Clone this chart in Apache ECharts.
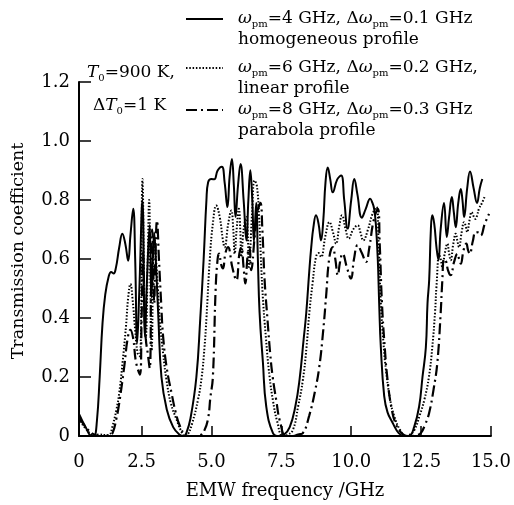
<!DOCTYPE html>
<html><head><meta charset="utf-8">
<script src="https://cdn.jsdelivr.net/npm/echarts@6/dist/echarts.min.js"></script>
<style>html,body{margin:0;padding:0;background:#fff}#c{width:514px;height:505px}</style>
</head><body><div id="c"></div>
<script>
// EMW frequency (GHz), transmission coefficient
const homogeneous = [[0.26,0.075],[0.5,0.03],[0.72,0.0],[0.8,0.0],[0.9,0.05],[1.0,0.2],[1.1,0.38],[1.2,0.48],[1.32,0.54],[1.41,0.556],[1.5,0.551],[1.58,0.57],[1.7,0.64],[1.81,0.686],[1.92,0.65],[2.02,0.594],[2.1,0.68],[2.2,0.77],[2.27,0.6],[2.34,0.315],[2.42,0.5],[2.53,0.80],[2.62,0.337],[2.7,0.55],[2.79,0.715],[2.85,0.47],[2.95,0.69],[3.03,0.55],[3.1,0.4],[3.21,0.2],[3.4,0.09],[3.63,0.03],[3.85,0.005],[4.0,0.0],[4.1,0.01],[4.25,0.06],[4.46,0.2],[4.6,0.4],[4.72,0.6],[4.82,0.8],[4.88,0.86],[5.0,0.871],[5.1,0.87],[5.22,0.9],[5.37,0.913],[5.47,0.86],[5.57,0.776],[5.65,0.88],[5.73,0.939],[5.8,0.85],[5.86,0.742],[5.95,0.85],[6.04,0.922],[6.15,0.8],[6.25,0.663],[6.32,0.8],[6.39,0.901],[6.46,0.8],[6.52,0.66],[6.6,0.79],[6.66,0.6],[6.72,0.42],[6.84,0.25],[6.96,0.1],[7.2,0.01],[7.4,0.0],[7.6,0.005],[7.8,0.03],[8.0,0.1],[8.15,0.19],[8.3,0.33],[8.39,0.416],[8.5,0.56],[8.57,0.64],[8.65,0.71],[8.74,0.748],[8.83,0.72],[8.92,0.663],[9.0,0.73],[9.08,0.86],[9.16,0.91],[9.25,0.87],[9.34,0.826],[9.5,0.87],[9.64,0.883],[9.75,0.8],[9.87,0.703],[10.0,0.8],[10.11,0.871],[10.22,0.82],[10.38,0.74],[10.52,0.77],[10.68,0.804],[10.76,0.79],[10.82,0.77],[10.88,0.72],[10.95,0.6],[11.0,0.45],[11.06,0.3],[11.18,0.135],[11.3,0.08],[11.48,0.045],[11.7,0.01],[11.9,0.0],[12.07,0.0],[12.25,0.03],[12.43,0.1],[12.55,0.2],[12.67,0.3],[12.73,0.45],[12.79,0.53],[12.85,0.7],[12.9,0.748],[12.97,0.72],[13.05,0.64],[13.12,0.596],[13.2,0.7],[13.32,0.79],[13.42,0.675],[13.5,0.74],[13.6,0.81],[13.67,0.76],[13.74,0.708],[13.83,0.79],[13.92,0.837],[13.98,0.8],[14.04,0.742],[14.15,0.84],[14.25,0.897],[14.38,0.84],[14.5,0.79],[14.6,0.84],[14.69,0.871]];

const linear = [[0.26,0.06],[0.5,0.025],[0.8,0.003],[1.0,0.005],[1.2,0.003],[1.35,0.005],[1.45,0.03],[1.6,0.09],[1.7,0.146],[1.82,0.25],[1.94,0.371],[2.02,0.47],[2.1,0.515],[2.18,0.46],[2.27,0.36],[2.36,0.28],[2.44,0.27],[2.53,0.871],[2.6,0.45],[2.65,0.337],[2.72,0.6],[2.77,0.8],[2.81,0.55],[2.86,0.29],[2.95,0.674],[3.05,0.55],[3.15,0.393],[3.27,0.28],[3.39,0.19],[3.55,0.11],[3.75,0.056],[3.9,0.02],[4.04,0.0],[4.15,0.005],[4.3,0.04],[4.52,0.124],[4.65,0.2],[4.75,0.3],[4.82,0.4],[4.94,0.6],[5.05,0.72],[5.17,0.781],[5.3,0.74],[5.4,0.67],[5.47,0.64],[5.6,0.72],[5.71,0.764],[5.78,0.7],[5.83,0.618],[5.9,0.7],[5.98,0.77],[6.03,0.7],[6.07,0.607],[6.15,0.7],[6.25,0.742],[6.3,0.68],[6.34,0.573],[6.45,0.75],[6.54,0.866],[6.62,0.85],[6.7,0.75],[6.82,0.5],[6.95,0.33],[7.08,0.2],[7.2,0.12],[7.35,0.05],[7.55,0.0],[7.7,0.003],[7.91,0.02],[8.1,0.1],[8.27,0.19],[8.4,0.3],[8.5,0.416],[8.62,0.52],[8.74,0.607],[8.83,0.62],[8.92,0.607],[9.08,0.68],[9.22,0.725],[9.35,0.69],[9.46,0.652],[9.57,0.71],[9.67,0.748],[9.8,0.7],[9.91,0.669],[10.07,0.7],[10.23,0.714],[10.33,0.69],[10.43,0.663],[10.6,0.7],[10.75,0.75],[10.9,0.776],[10.98,0.65],[11.06,0.45],[11.15,0.32],[11.24,0.226],[11.4,0.12],[11.54,0.067],[11.75,0.02],[11.95,0.0],[12.1,0.005],[12.26,0.02],[12.45,0.07],[12.62,0.124],[12.78,0.2],[12.9,0.3],[13.0,0.42],[13.05,0.506],[13.15,0.618],[13.2,0.6],[13.26,0.573],[13.35,0.62],[13.44,0.652],[13.5,0.62],[13.56,0.596],[13.65,0.65],[13.74,0.686],[13.8,0.66],[13.86,0.64],[13.95,0.69],[14.04,0.725],[14.1,0.71],[14.15,0.691],[14.23,0.73],[14.31,0.759],[14.38,0.745],[14.45,0.736],[14.51,0.75],[14.57,0.77],[14.68,0.79],[14.79,0.815]];

const parabola = [[0.26,0.065],[0.5,0.03],[0.8,0.005],[1.0,0.0],[1.2,0.0],[1.35,0.005],[1.46,0.01],[1.6,0.06],[1.7,0.112],[1.88,0.236],[2.0,0.33],[2.1,0.36],[2.2,0.33],[2.3,0.25],[2.44,0.208],[2.5,0.4],[2.55,0.62],[2.6,0.45],[2.65,0.33],[2.72,0.28],[2.79,0.23],[2.84,0.5],[2.88,0.70],[2.92,0.55],[2.95,0.45],[2.99,0.6],[3.05,0.73],[3.12,0.6],[3.2,0.45],[3.27,0.337],[3.4,0.23],[3.57,0.146],[3.72,0.08],[3.87,0.034],[4.05,0.005],[4.2,0.0],[4.4,0.0],[4.6,0.003],[4.75,0.02],[4.88,0.06],[4.96,0.13],[5.05,0.2],[5.15,0.5],[5.22,0.6],[5.27,0.618],[5.35,0.58],[5.41,0.568],[5.5,0.62],[5.59,0.64],[5.75,0.57],[5.89,0.528],[6.0,0.62],[6.07,0.64],[6.15,0.57],[6.21,0.517],[6.3,0.62],[6.36,0.64],[6.42,0.562],[6.55,0.68],[6.65,0.76],[6.75,0.79],[6.82,0.7],[6.9,0.53],[7.0,0.4],[7.1,0.28],[7.19,0.2],[7.32,0.12],[7.45,0.05],[7.67,0.0],[7.9,0.0],[8.1,0.005],[8.27,0.01],[8.5,0.07],[8.7,0.15],[8.86,0.236],[9.0,0.36],[9.1,0.472],[9.22,0.607],[9.34,0.64],[9.43,0.6],[9.52,0.545],[9.6,0.59],[9.69,0.618],[9.85,0.57],[9.99,0.534],[10.1,0.6],[10.23,0.647],[10.38,0.62],[10.53,0.59],[10.65,0.64],[10.8,0.73],[10.95,0.77],[11.02,0.65],[11.1,0.45],[11.2,0.3],[11.3,0.19],[11.45,0.09],[11.6,0.04],[11.8,0.01],[12.0,0.0],[12.2,0.0],[12.35,0.003],[12.49,0.01],[12.65,0.04],[12.79,0.079],[12.95,0.16],[13.08,0.247],[13.2,0.416],[13.26,0.528],[13.32,0.6],[13.38,0.596],[13.47,0.56],[13.56,0.545],[13.68,0.59],[13.8,0.618],[13.86,0.6],[13.92,0.584],[14.02,0.63],[14.12,0.652],[14.18,0.63],[14.24,0.618],[14.35,0.66],[14.45,0.691],[14.55,0.69],[14.63,0.68],[14.78,0.72],[14.93,0.753]];

const xTickValues = [0.26, 2.5, 5, 7.5, 10, 12.5, 15];
const xTickLabels = ['0', '2.5', '5.0', '7.5', '10.0', '12.5', '15.0'];
const seriesNames = ['homogeneous', 'linear', 'parabola'];
const legendLine1 = [
  '{w|ω}{s|pm}{t|=4 GHz, Δ}{w|ω}{s|pm}{t|=0.1 GHz}',
  '{w|ω}{s|pm}{t|=6 GHz, Δ}{w|ω}{s|pm}{t|=0.2 GHz,}',
  '{w|ω}{s|pm}{t|=8 GHz, Δ}{w|ω}{s|pm}{t|=0.3 GHz}'
];
const legendLine2 = ['homogeneous profile', 'linear profile', 'parabola profile'];

const FONT = 'DejaVu Serif';
const FS = 17;
const LH = 21;
const rich = {
  e: {fontSize: FS, lineHeight: LH, fontFamily: FONT},
  g: {width: 10, fontSize: FS, lineHeight: LH},
  w: {fontSize: FS, fontStyle: 'italic', fontFamily: FONT, lineHeight: LH, color: '#000'},
  s: {fontSize: 10, fontFamily: FONT, lineHeight: LH, verticalAlign: 'bottom', padding: [4, 0, 0, 0], color: '#000'},
  t: {fontSize: FS, fontFamily: FONT, lineHeight: LH, color: '#000'},
  i: {fontSize: FS, fontStyle: 'italic', fontFamily: FONT, lineHeight: LH, color: '#000'}
};
const legendTopLine1 = [21, 70, 112];

const chart = echarts.init(document.getElementById('c'), null, {renderer: 'canvas'});
const lineStyles = [
  {color: '#000', width: 2, type: 'solid'},
  {color: '#000', width: 2, type: [1.5, 1.8], cap: 'butt'},
  {color: '#000', width: 2.2, type: [11, 4, 2, 4], cap: 'butt'}
];
const datasets = [homogeneous, linear, parabola];

const option = {
  backgroundColor: '#fff',
  animation: false,
  color: ['#000', '#000', '#000'],
  grid: {left: 79, right: 22, top: 82, bottom: 65, containLabel: false},
  legend: seriesNames.map((n, i) => ({
    data: [n],
    left: 185,
    top: legendTopLine1[i] - 1.5 * LH,
    padding: 0,
    orient: 'vertical',
    itemWidth: 37,
    itemHeight: 10,
    selectedMode: false,
    itemStyle: {opacity: 0},
    formatter: () => '{e| }\n{g| }' + legendLine1[i] + '\n{g| }{t|' + legendLine2[i] + '}',
    textStyle: {fontFamily: FONT, fontSize: FS, color: '#000', rich: rich}
  })),
  xAxis: {
    type: 'value', min: 0.26, max: 15,
    name: 'EMW frequency /GHz', nameLocation: 'middle', nameGap: 46,
    nameTextStyle: {fontFamily: FONT, fontSize: 18, color: '#000'},
    axisLine: {lineStyle: {color: '#000', width: 2}},
    axisTick: {inside: true, length: 10, customValues: xTickValues.slice(1), lineStyle: {color: '#000', width: 1.5}},
    axisLabel: {customValues: xTickValues, margin: 17, fontFamily: FONT, fontSize: 18, color: '#000',
      formatter: (v) => xTickLabels[xTickValues.indexOf(v)] ?? ''},
    splitLine: {show: false}
  },
  yAxis: {
    type: 'value', min: 0, max: 1.2, interval: 0.2,
    name: 'Transmission coefficient', nameLocation: 'middle', nameGap: 52,
    nameTextStyle: {fontFamily: FONT, fontSize: 17.5, color: '#000', padding: [0, 0, 0, 16]},
    axisLine: {show: true, lineStyle: {color: '#000', width: 2}},
    axisTick: {show: true, inside: true, length: 12, lineStyle: {color: '#000', width: 1.5}},
    axisLabel: {margin: 9, fontFamily: FONT, fontSize: 18, color: '#000',
      formatter: (v) => (v === 0 ? '0' : v.toFixed(1))},
    splitLine: {show: false}
  },
  graphic: [
    {type: 'text', left: 87, top: 75 - LH / 2, style: {rich: rich, text: '{i|T}{s|0}{t|=900 K,}'}},
    {type: 'text', left: 93, top: 108 - LH / 2, style: {rich: rich, text: '{t|Δ}{i|T}{s|0}{t|=1 K}'}}
  ],
  series: seriesNames.map((n, i) => ({
    name: n, type: 'line', data: datasets[i], symbol: 'none', showSymbol: false,
    smooth: 0.45, lineStyle: lineStyles[i], itemStyle: {color: '#000'}, z: 3 - i
  }))
};
chart.setOption(option);
</script>
</body></html>
